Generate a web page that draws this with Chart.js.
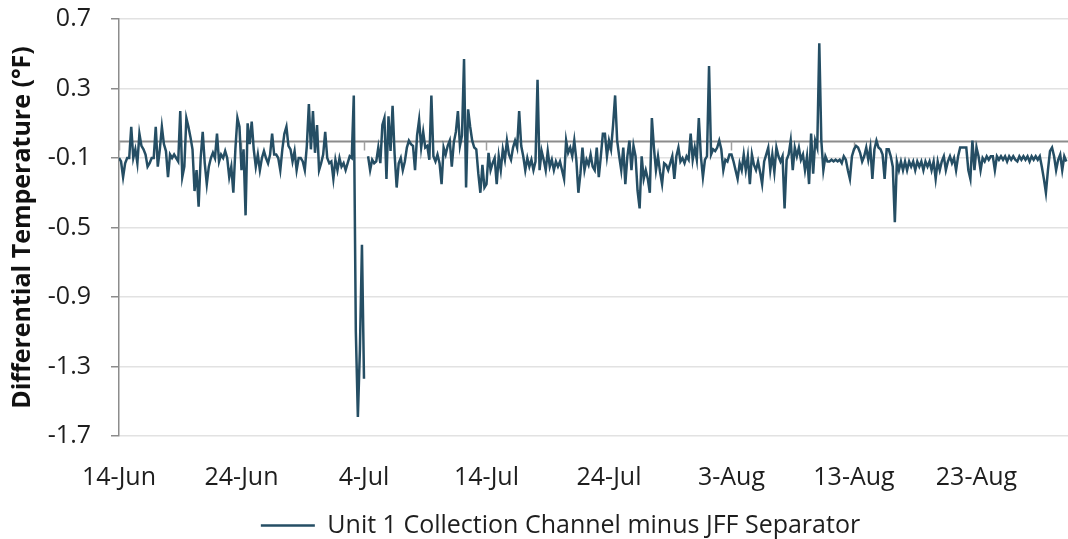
<!DOCTYPE html>
<html><head><meta charset="utf-8">
<script src="https://cdn.jsdelivr.net/npm/chart.js@4.4.0/dist/chart.umd.min.js"></script>
<style>html,body{margin:0;padding:0;background:#fff;overflow:hidden}</style>
</head><body>
<canvas id="c" width="1068" height="539"></canvas>
<script>
// ---- data ----
const seriesName = 'Unit 1 Collection Channel minus JFF Separator';
const tickDays = [0, 10, 20, 30, 40, 50, 60, 70];               // days since 14-Jun
const tickLabels = ['14-Jun', '24-Jun', '4-Jul', '14-Jul', '24-Jul', '3-Aug', '13-Aug', '23-Aug'];
const yTicks = [0.7, 0.3, -0.1, -0.5, -0.9, -1.3, -1.7];
const sampleHours = 4;   // readings every 4 h starting 14-Jun 00:00
const values = [
  -0.10,-0.12,-0.21,-0.13,-0.10,-0.10,
  0.08,-0.10,-0.05,-0.13,0.04,-0.03,
  -0.05,-0.08,-0.15,-0.13,-0.10,-0.10,
  0.08,-0.15,-0.05,0.08,-0.02,-0.06,
  -0.21,-0.08,-0.10,-0.08,-0.10,-0.12,
  0.17,-0.21,-0.15,0.13,0.08,0.02,
  -0.05,-0.29,-0.17,-0.38,-0.10,0.05,
  -0.13,-0.25,-0.15,-0.10,-0.07,-0.10,
  0.04,-0.12,-0.08,-0.10,-0.06,-0.10,
  -0.21,-0.15,-0.30,-0.05,0.13,0.08,
  -0.17,-0.05,-0.43,0.10,-0.02,0.11,
  -0.05,-0.15,-0.08,-0.17,-0.10,-0.06,
  -0.10,-0.13,-0.08,0.04,-0.08,-0.08,
  -0.10,-0.17,-0.05,0.04,0.08,-0.03,
  -0.05,-0.12,-0.06,-0.17,-0.10,-0.10,
  -0.12,-0.17,-0.03,0.21,-0.05,0.17,
  -0.07,0.09,-0.17,-0.13,-0.08,0.05,
  -0.10,-0.13,-0.12,-0.22,-0.11,-0.17,
  -0.10,-0.15,-0.13,-0.17,-0.13,-0.09,
  -0.10,0.26,-1.10,-1.59,-1.20,-0.60,
  -1.37,null,-0.09,-0.17,-0.11,-0.13,
  -0.12,-0.04,-0.13,0.09,0.13,-0.22,
  0.14,-0.06,0.20,-0.08,-0.27,-0.13,
  -0.10,-0.17,-0.12,-0.04,0.00,-0.02,
  -0.03,-0.17,0.03,0.12,-0.04,0.05,
  -0.04,-0.03,-0.11,0.26,-0.09,-0.12,
  -0.08,-0.13,-0.25,-0.04,-0.08,-0.03,
  0.00,-0.15,-0.01,0.05,0.17,-0.03,
  0.03,0.47,-0.27,0.18,0.08,0.00,
  -0.04,-0.05,-0.19,-0.30,-0.14,-0.27,
  -0.25,-0.07,-0.17,-0.13,-0.10,-0.25,
  -0.09,-0.17,-0.05,-0.11,0.00,-0.08,
  -0.11,-0.04,0.00,-0.04,0.17,-0.03,
  -0.09,-0.17,-0.10,-0.15,-0.11,-0.17,
  -0.12,0.35,-0.17,-0.06,-0.11,-0.17,
  -0.06,-0.15,-0.11,-0.17,-0.12,-0.15,
  -0.12,-0.17,-0.22,0.00,-0.07,-0.04,
  -0.09,0.00,-0.11,-0.30,-0.19,-0.04,
  -0.17,-0.11,-0.14,-0.08,-0.15,-0.17,
  -0.04,-0.21,-0.09,0.04,0.04,-0.09,
  0.00,-0.05,0.09,0.26,0.00,-0.09,
  -0.17,-0.04,-0.25,-0.09,0.00,-0.17,
  -0.03,-0.09,-0.29,-0.39,-0.09,-0.22,
  -0.17,-0.22,-0.30,0.13,-0.04,-0.17,
  -0.09,-0.18,-0.25,-0.13,-0.14,-0.17,
  -0.13,-0.09,-0.22,-0.09,-0.04,-0.12,
  -0.10,-0.13,-0.09,-0.11,0.04,-0.11,
  -0.04,-0.11,0.13,-0.09,-0.21,-0.11,
  -0.09,0.43,-0.08,-0.05,-0.06,-0.04,
  0.00,-0.05,-0.17,-0.11,-0.12,-0.08,
  -0.08,-0.12,-0.17,-0.22,-0.13,-0.17,
  -0.08,-0.17,-0.09,-0.25,-0.08,-0.14,
  -0.17,-0.12,-0.18,-0.25,-0.12,-0.08,
  -0.04,-0.17,-0.08,-0.18,-0.04,-0.09,
  -0.12,-0.09,-0.39,-0.11,-0.08,0.00,
  -0.17,-0.04,-0.09,-0.04,-0.11,-0.08,
  -0.17,-0.09,-0.25,0.04,-0.19,0.00,
  -0.04,0.56,0.00,-0.17,-0.09,-0.12,
  -0.12,-0.11,-0.12,-0.11,-0.12,-0.11,
  -0.13,-0.09,-0.11,-0.17,-0.22,-0.09,
  -0.05,-0.03,-0.04,-0.07,-0.12,-0.09,
  -0.04,-0.11,-0.04,-0.22,-0.05,0.00,
  -0.04,-0.05,-0.08,-0.22,-0.05,-0.05,
  -0.09,-0.15,-0.47,-0.12,-0.17,-0.12,
  -0.17,-0.12,-0.17,-0.12,-0.15,-0.12,
  -0.17,-0.12,-0.15,-0.12,-0.17,-0.12,
  -0.15,-0.12,-0.17,-0.12,-0.22,-0.12,
  -0.17,-0.12,-0.09,-0.17,-0.12,-0.09,
  -0.13,-0.10,-0.17,-0.09,-0.04,-0.04,
  -0.04,-0.04,-0.17,-0.22,0.00,-0.17,
  -0.04,-0.09,-0.17,-0.10,-0.12,-0.09,
  -0.11,-0.09,-0.09,-0.17,-0.09,-0.11,
  -0.09,-0.11,-0.09,-0.12,-0.09,-0.11,
  -0.09,-0.11,-0.12,-0.09,-0.11,-0.09,
  -0.11,-0.09,-0.12,-0.09,-0.11,-0.09,
  -0.11,-0.09,-0.15,-0.22,-0.30,-0.17,
  -0.06,-0.04,-0.09,-0.17,-0.11,-0.08,
  -0.17,-0.09,-0.12
];
const xMinDays = 0;
const xMaxDays = 77.47;
const yMin = -1.7, yMax = 0.7;

// ---- chart ----
const FONT = '"Open Sans", "Noto Sans", sans-serif';
const lineColor = '#254e64';

const zeroAxis = {
  id: 'zeroAxis',
  beforeDatasetsDraw(chart) {
    const {ctx, chartArea, scales: {x, y}} = chart;
    const py = Math.round(y.getPixelForValue(0)) + 0.5;
    ctx.save();
    ctx.strokeStyle = '#8c8c8c';
    ctx.lineWidth = 2;
    ctx.beginPath();
    ctx.moveTo(chartArea.left, py);
    ctx.lineTo(chartArea.right, py);
    ctx.stroke();
    ctx.strokeStyle = '#a0a0a0';
    ctx.lineWidth = 1.5;
    tickDays.forEach(d => {
      const px = Math.round(x.getPixelForValue(d)) + 0.5;
      ctx.beginPath();
      ctx.moveTo(px, py);
      ctx.lineTo(px, py + 9);
      ctx.stroke();
    });
    ctx.restore();
  }
};

// legend box: fixed height and slight horizontal offset (Excel-style placement)
const legendPlacement = {
  id: 'legendPlacement',
  afterInit(chart) {
    const lg = chart.legend;
    const origFit = lg.fit.bind(lg);
    lg.fit = function () { origFit(); this.height = 32; };
  },
  afterLayout(chart) {
    chart.legend.left += 53;
  }
};

new Chart(document.getElementById('c'), {
  type: 'line',
  data: {
    datasets: [{
      label: seriesName,
      data: values.map((v, i) => ({x: i * sampleHours / 24, y: v})),
      borderColor: lineColor,
      backgroundColor: lineColor,
      borderWidth: 2.5,
      pointRadius: 0,
      tension: 0,
      spanGaps: false
    }]
  },
  options: {
    responsive: false,
    animation: false,
    devicePixelRatio: 1,
    layout: {padding: {top: 19, left: 0, right: 0, bottom: 0}},
    plugins: {
      legend: {
        position: 'bottom',
        labels: {
          usePointStyle: true,
          pointStyle: 'line',
          pointStyleWidth: 54,
          padding: 6,
          color: '#1e1e1e',
          font: {family: FONT, size: 25}
        }
      },
      tooltip: {enabled: false}
    },
    scales: {
      x: {
        type: 'linear',
        min: xMinDays,
        max: xMaxDays,
        afterBuildTicks: s => { s.ticks = tickDays.map(v => ({value: v})); },
        afterFit: s => { s.height = 71; },
        grid: {display: false, drawTicks: false},
        border: {display: false},
        ticks: {
          autoSkip: false,
          maxRotation: 0,
          padding: 27,
          color: '#1e1e1e',
          font: {family: FONT, size: 25},
          callback: v => tickLabels[tickDays.indexOf(v)]
        }
      },
      y: {
        min: yMin,
        max: yMax,
        afterBuildTicks: s => { s.ticks = yTicks.map(v => ({value: v})); },
        afterFit: s => { s.width = 119; s.paddingTop = 0; s.paddingBottom = 0; },
        grid: {color: '#e2e2e2', lineWidth: 1.5, tickColor: '#8c8c8c', tickLength: 8},
        border: {display: true, color: '#8c8c8c', width: 1.5},
        ticks: {
          padding: 20,
          color: '#1e1e1e',
          font: {family: FONT, size: 25},
          callback: v => v.toFixed(1)
        },
        title: {
          display: true,
          text: 'Differential Temperature (°F)',
          color: '#111',
          font: {family: FONT, size: 25, weight: 'bold'},
          padding: {top: 8, bottom: 0}
        }
      }
    }
  },
  plugins: [zeroAxis, legendPlacement]
});
</script>
</body></html>
